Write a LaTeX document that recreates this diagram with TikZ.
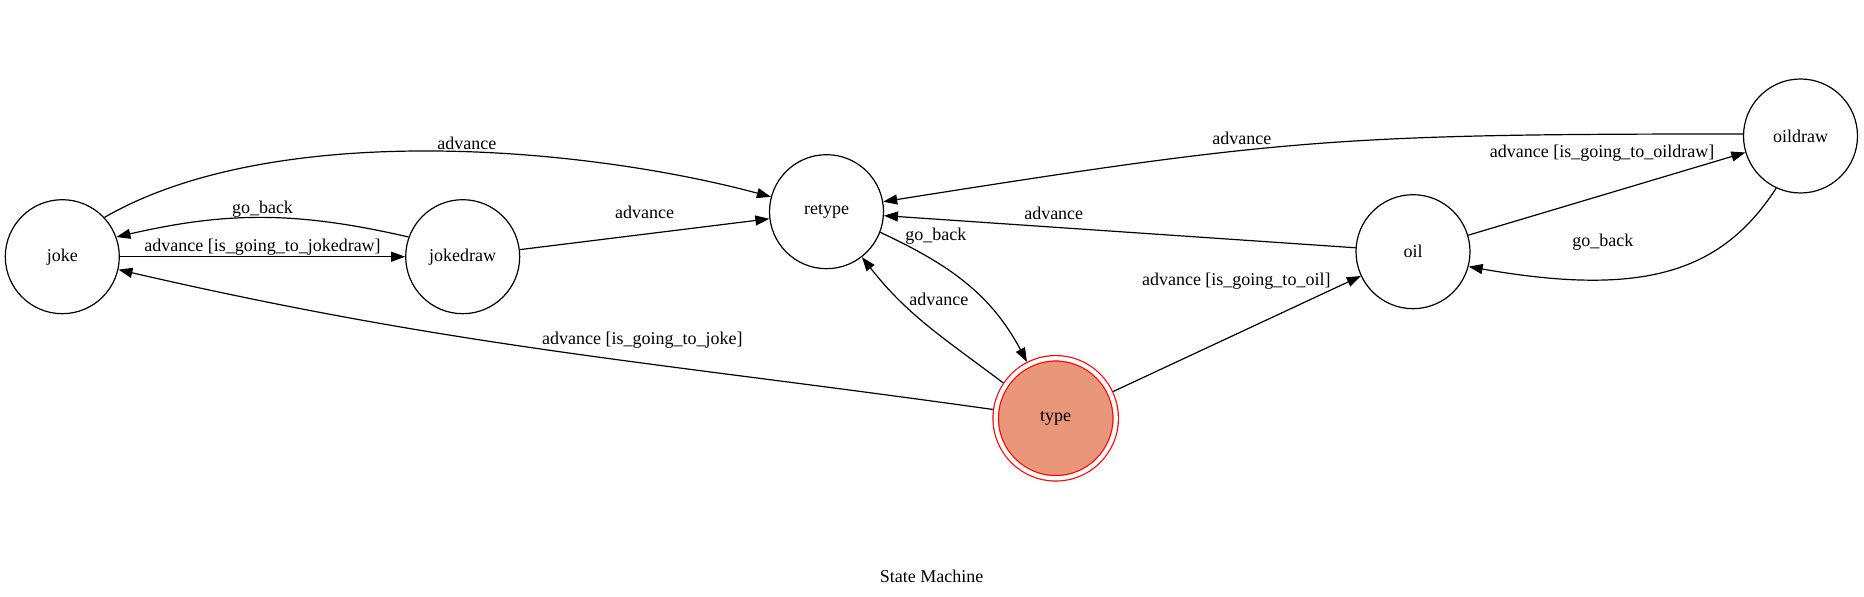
\documentclass[tikz,border=0pt]{standalone}
\usepackage{fontspec}
\setmainfont{Liberation Serif}
\usetikzlibrary{arrows.meta}
\definecolor{salmonfill}{RGB}{233,150,122}
\tikzset{
  stnode/.style={circle, draw, minimum size=114pt, inner sep=0pt},
  acnode/.style={stnode, minimum size=120pt, draw=red, fill=salmonfill, double=white, double distance=4.2pt, outer sep=3.3pt},
  trans/.style={-{Triangle[length=14pt,width=10pt]}},
  tlabel/.style={inner sep=0pt}
}
\begin{document}
\begin{tikzpicture}[x=1pt, y=1pt, line width=1.2pt, font=\fontsize{18}{22}\selectfont]
  \useasboundingbox (0,0) rectangle (1864,597);
  \node[stnode] (joke) at (62.3, 340.3) {joke};
  \node[stnode] (jokedraw) at (462.7, 340.3) {jokedraw};
  \node[stnode] (retype) at (826.5, 385.3) {retype};
  \node[acnode] (type) at (1055.7, 178.7) {type};
  \node[stnode] (oil) at (1413, 345.3) {oil};
  \node[stnode] (oildraw) at (1800.5, 461) {oildraw};
  \node (title) at (931.7, 20.3) {State Machine};

  \draw[trans] (joke.43) to[out=30, in=165, looseness=0.75] node[tlabel, pos=0.55, above=2pt] {advance} (retype.165);
  \draw[trans] (jokedraw.160) to[out=167, in=13] node[tlabel, above=0pt] {go\_back} (joke.20);
  \draw[trans] (joke) -- node[tlabel, above=1pt] {advance [is\_going\_to\_jokedraw]} (jokedraw);
  \draw[trans] (jokedraw) -- node[tlabel, above=15pt] {advance} (retype);
  \draw[trans] (type) to[out=172, in=-13] node[tlabel, pos=0.39, above=14pt] {advance [is\_going\_to\_joke]} (joke);
  \draw[trans] (retype.-21) to[out=-25, in=118] node[tlabel, pos=0.3, above=17pt] {go\_back} (type.117);
  \draw[trans] (type.146) to[out=143, in=-52] node[tlabel, pos=0.72, right=10pt] {advance} (retype.-52);
  \draw[trans] (type) -- node[tlabel, pos=0.88, anchor=south east] {advance [is\_going\_to\_oil]} (oil);
  \draw[trans] (oil) -- node[tlabel, pos=0.64, above=7pt] {advance} (retype);
  \draw[trans] (oildraw.178) to[out=180, in=9, looseness=1.2] node[tlabel, pos=0.6, above=5pt] {advance} (retype.10);
  \draw[trans] (oil) -- node[tlabel, pos=0.89, anchor=south east] {advance [is\_going\_to\_oildraw]} (oildraw);
  \draw[trans] (oildraw.245) to[out=237, in=-10, out looseness=0.8, in looseness=1.45] node[tlabel, pos=0.7, above=28pt] {go\_back} (oil.-15);
\end{tikzpicture}
\end{document}
